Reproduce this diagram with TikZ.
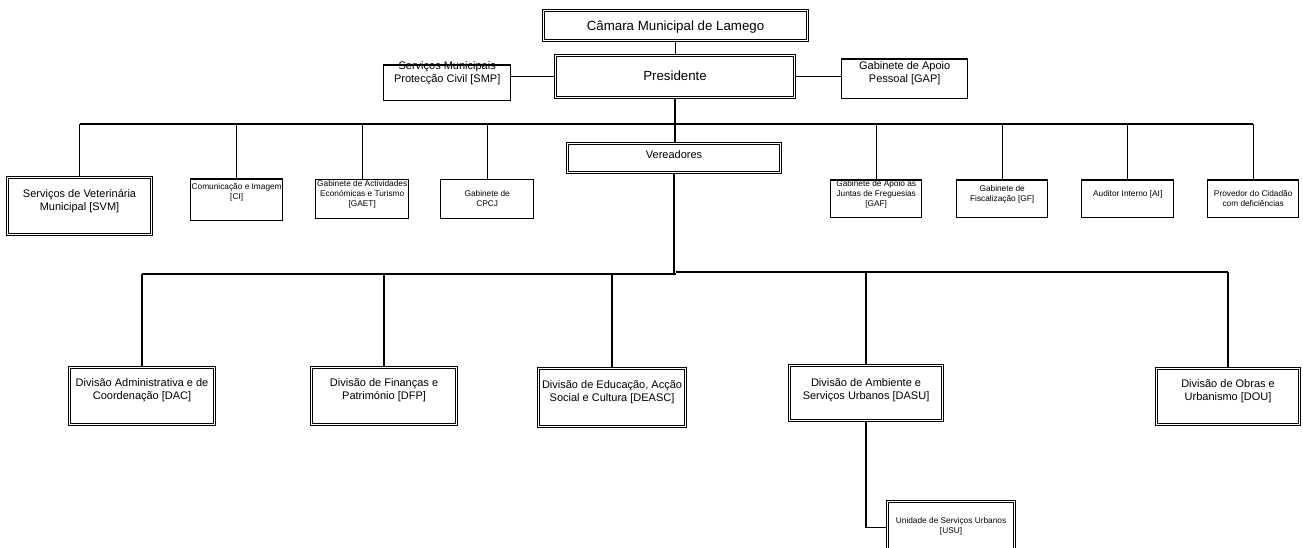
\documentclass[tikz,border=0pt]{standalone}
\usepackage{fontspec}
\setmainfont{Liberation Sans}

\begin{document}
\begin{tikzpicture}[x=1pt,y=-1pt,
	box/.style={draw,line width=1.4pt,anchor=north west,inner sep=0pt,align=center},
	dbox/.style={box,line width=1.1pt,double,double distance=1.2pt},
	txtbig/.style={font=\fontsize{13.3}{16}\selectfont},
	txtmid/.style={font=\fontsize{11}{13}\selectfont},
	txtdiv/.style={font=\fontsize{11}{13}\selectfont},
	txtsmall/.style={font=\fontsize{8.3}{10}\selectfont},
	link/.style={line width=1.3pt}]
		\useasboundingbox (0,0) rectangle (1303,548);
		
		% Top
		\node[dbox,txtbig,minimum width=264,text height=19.5,text depth=10.5] (cam) at (543,10) {Câmara Municipal de Lamego};
		\node[dbox,txtbig,minimum width=239,text height=25,text depth=17] (pres) at (555,55) {Presidente};
		\node[box,txtmid,minimum width=127,text height=17,text depth=18.5] (smp) at (383,64.5) {Serviços Municipais\\Protecção Civil [SMP]};
		\node[box,txtmid,minimum width=126,text height=23.7,text depth=16] (gap) at (841,58.3) {Gabinete de Apoio\\Pessoal [GAP]};
		
		% Second row
		\node[dbox,txtdiv,minimum width=144,text height=33,text depth=24] (svm) at (7,177) {Serviços de Veterinária\\Municipal [SVM]};
		\node[box,txtsmall,minimum width=92,text height=21,text depth=20.7] (ci) at (190,178.3) {Comunicação e Imagem\\{[CI]}};
		\node[box,txtsmall,minimum width=93,text height=27,text depth=12] (gaet) at (315,179) {Gabinete de Actividades\\Económicas e Turismo\\{[GAET]}};
		\node[box,txtsmall,minimum width=93,text height=26.5,text depth=12.5] (cpcj) at (440,179) {Gabinete de\\CPCJ};
		\node[dbox,txtmid,minimum width=213,text height=14.5,text depth=14.5] (ver) at (567,143) {Vereadores};
		\node[box,txtsmall,minimum width=91,text height=26.4,text depth=11.3] (gaf) at (830,179.3) {Gabinete de Apoio às\\Juntas de Freguesias\\{[GAF]}};
		\node[box,txtsmall,minimum width=91,text height=22,text depth=15.7] (gf) at (956,179.3) {Gabinete de\\Fiscalização [GF]};
		\node[box,txtsmall,minimum width=92,text height=16.4,text depth=21.3] (ai) at (1081,179.3) {Auditor Interno [AI]};
		\node[box,txtsmall,minimum width=91,text height=26.4,text depth=11.3] (prov) at (1207,179.3) {Provedor do Cidadão\\com deficiências};
		
		% Divisions
		\node[dbox,txtdiv,minimum width=145,text height=31.5,text depth=25.5] (dac) at (69,367) {Divisão Administrativa e de\\Coordenação [DAC]};
		\node[dbox,txtdiv,minimum width=145,text height=31.5,text depth=25.5] (dfp) at (311,367) {Divisão de Finanças e\\Património [DFP]};
		\node[dbox,txtdiv,minimum width=147,text height=32.5,text depth=25.5] (deasc) at (538,368) {Divisão de Educação, Acção\\Social e Cultura [DEASC]};
		\node[dbox,txtdiv,minimum width=153,text height=33.5,text depth=21.5] (dasu) at (789,365) {Divisão de Ambiente e\\Serviços Urbanos [DASU]};
		\node[dbox,txtdiv,minimum width=143,text height=31.5,text depth=24.5] (dou) at (1156,368) {Divisão de Obras e\\Urbanismo [DOU]};
		\node[dbox,txtsmall,minimum width=127,text height=32,text depth=20] (usu) at (887,501) {Unidade de Serviços Urbanos\\{[USU]}};
		
		% Lines
		\coordinate (bus1) at (676,124);
		\coordinate (bus2l) at (676,274);
		\coordinate (bus2r) at (676,272);
		\draw[link] (cam.south) -- (cam.south |- pres.north);
		\draw[link] (pres.west) -- (pres.west -| smp.east);
		\draw[link] (pres.east) -- (pres.east -| gap.west);
		\draw[link] (pres.south) -- (pres.south |- ver.north);
		\draw[link] (svm.north |- bus1) -- (prov.north |- bus1);
		\foreach \n in {svm,ci,gaet,cpcj,gaf,gf,ai,prov}
			\draw[link] (\n.north) -- (\n.north |- bus1);
		\draw[link,line width=1.8pt] (ver.south) -- (ver.south |- bus2l);
		\draw[link] (dac.north |- bus2l) -- (bus2l);
		\draw[link] (bus2r) -- (dou.north |- bus2r);
		\foreach \n in {dac,dfp,deasc}
			\draw[link] (\n.north) -- (\n.north |- bus2l);
		\foreach \n in {dasu,dou}
			\draw[link] (\n.north) -- (\n.north |- bus2r);
		\draw[link] (dasu.south) |- (usu.west);
\end{tikzpicture}
\end{document}
